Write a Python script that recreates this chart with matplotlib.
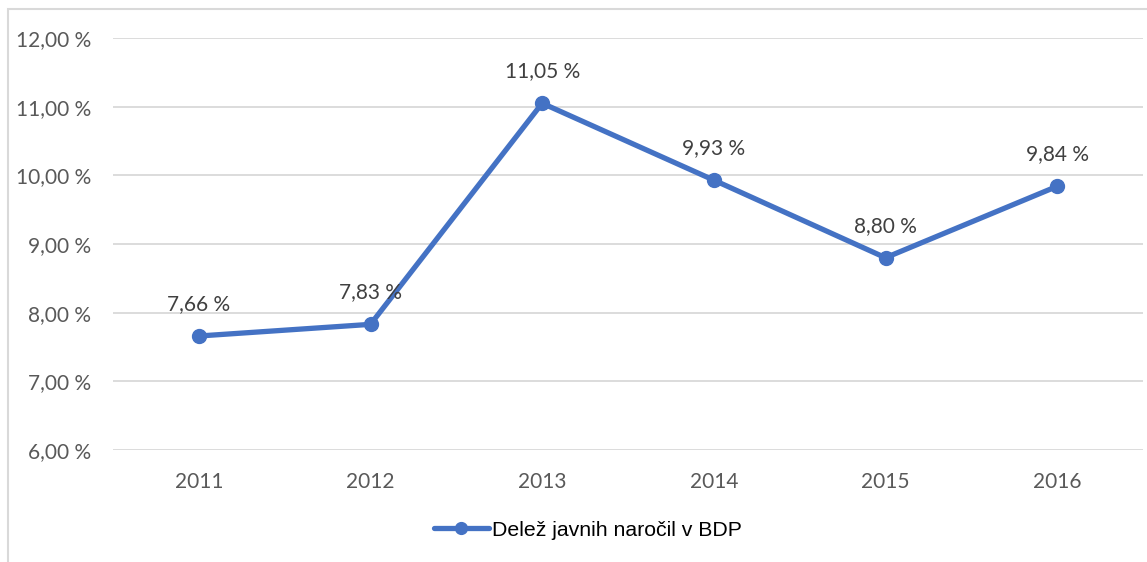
import numpy as np
import matplotlib
matplotlib.use("Agg")
import matplotlib.pyplot as plt
from matplotlib.patches import Rectangle

years = ["2011", "2012", "2013", "2014", "2015", "2016"]
share = [7.66, 7.83, 11.05, 9.93, 8.80, 9.84]
series_name = "Delež javnih naročil v BDP"

blue = "#4472C4"
grey = "#595959"
label_grey = "#404040"

def pct(v):
    return "{:.2f} %".format(v).replace(".", ",")

fig = plt.figure(figsize=(11.47, 5.62), dpi=100)
ax = fig.add_axes([113 / 1147, 1 - 450 / 562, 1030 / 1147, 412 / 562])

# chart frame (cut off at right and bottom)
fig.patches.append(Rectangle((8 / 1147, -0.1), 1.2, 1 - 9 / 562 + 0.1,
                             transform=fig.transFigure, fill=False,
                             edgecolor="#d9d9d9", linewidth=1.5, zorder=0))

x = np.arange(len(years))
ax.plot(x, share, color=blue, linewidth=3.8, marker="o", markersize=10,
        solid_capstyle="round", label=series_name, zorder=3)

for xi, v in zip(x, share):
    ax.annotate(pct(v), (xi, v), xytext=(0, 23), textcoords="offset points",
                ha="center", va="center", fontsize=15, color=label_grey,
                family="Lato")

ax.set_xlim(-0.5, len(years) - 0.5)
ax.set_ylim(6, 12)
ax.set_yticks(np.arange(6, 12.1, 1))
ax.set_yticklabels([pct(v) for v in np.arange(6, 12.1, 1)])
ax.set_xticks(x)
ax.set_xticklabels(years)
ax.tick_params(length=0, labelsize=15, labelcolor=grey)
ax.tick_params(axis="x", pad=16)
ax.tick_params(axis="y", pad=16)
for lab in ax.get_xticklabels() + ax.get_yticklabels():
    lab.set_family("Lato")
ax.grid(axis="y", color="#d9d9d9", linewidth=1.3)
ax.set_axisbelow(True)
for s in ax.spines.values():
    s.set_visible(False)

leg = fig.legend(loc="center", bbox_to_anchor=(588 / 1147, 1 - 530 / 562),
                 frameon=False, prop={"family": "Liberation Sans", "size": 15.3},
                 handlelength=2.6, handletextpad=0.15, markerscale=0.85)

fig.savefig("out.png", dpi=100)
